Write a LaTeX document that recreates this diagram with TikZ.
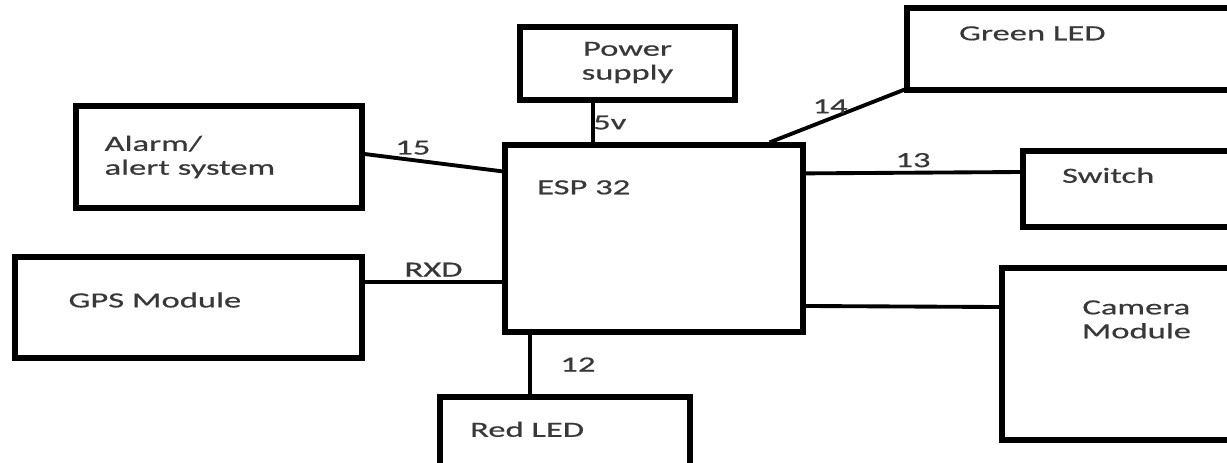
\documentclass[tikz,border=0pt]{standalone}
\usepackage{fontspec}
\setmainfont[FakeStretch=1.6, FakeBold=0.6]{Carlito}
\usepackage{tikz}
\usetikzlibrary{positioning,calc}

\begin{document}
\begin{tikzpicture}[
    x=0.02cm, y=-0.02cm,
    blk/.style={draw, line width=3pt, rectangle, inner sep=0pt},
    txt/.style={font=\fontsize{12.3}{13.6}\selectfont, text=black!78, align=left},
    wire/.style={line width=2.2pt},
    lbl/.style={font=\fontsize{12.3}{13.6}\selectfont, text=black!78, inner sep=2pt}
]
\path[use as bounding box] (0,0) rectangle (1227,463);
\clip (0,0) rectangle (1227,463);

% blocks
\node[blk, minimum width=5.72cm, minimum height=2.04cm] (alarm) at (219,157) {};
\node[blk, minimum width=6.94cm, minimum height=2.02cm] (gps) at (188.5,307.5) {};
\node[blk, minimum width=5.96cm, minimum height=3.74cm] (esp) at (654,238.5) {};
\node[blk, minimum width=4.3cm, minimum height=1.46cm] (power) at (627.5,63.5) {};
\node[blk, minimum width=7.66cm, minimum height=1.64cm] (green) at (1098.5,49) {};
\node[blk, minimum width=5.34cm, minimum height=1.52cm] (switch) at (1156.5,189) {};
\node[blk, minimum width=5.76cm, minimum height=3.44cm] (camera) at (1146,354) {};
\node[blk, minimum width=5.0cm, minimum height=2.06cm] (red) at (565,448.5) {};

% texts
\node[txt, anchor=west] (alarmtxt) at ([xshift=0.5cm]alarm.west) {Alarm/\\alert system};
\node[txt, anchor=west] (gpstxt) at ([xshift=1.0cm, yshift=0.15cm]gps.west) {GPS Module};
\node[txt, anchor=west] (esptxt) at ([xshift=0.57cm, yshift=-0.9cm]esp.north west) {ESP 32};
\node[txt, align=center] (powertxt) at ([yshift=0.02cm]power.center) {Power\\supply};
\node[txt, anchor=west] (greentxt) at ([xshift=0.97cm, yshift=-0.56cm]green.north west) {Green LED};
\node[txt, anchor=west] (switchtxt) at ([xshift=0.71cm, yshift=-0.54cm]switch.north west) {Switch};
\node[txt, align=center] (cameratxt) at ([xshift=2.74cm, yshift=-1.08cm]camera.north west) {Camera\\Module};
\node[txt, anchor=west] (redtxt) at ([xshift=0.53cm, yshift=-0.7cm]red.north west) {Red LED};

% connections
\coordinate (rxd) at ([yshift=0.51cm]gps.east);
\coordinate (pwr) at ([xshift=-0.69cm]power.south);
\coordinate (r12) at ([xshift=0.56cm]esp.south west);

\draw[wire] ([yshift=0.06cm]alarm.east) -- node[lbl, pos=0.35, above] {15} ([yshift=-0.58cm]esp.north west);
\draw[wire] (rxd) -- node[lbl, midway, above] {RXD} (rxd -| esp.west);
\draw[wire] (pwr) -- node[lbl, midway, right, xshift=-3pt] {5v} (pwr |- esp.north);
\draw[wire] ([xshift=-0.72cm]esp.north east) -- node[lbl, pos=0.45, above left, xshift=13pt] {14} ([yshift=0.06cm]green.south west);
\draw[wire] ([yshift=-0.62cm]esp.north east) -- node[lbl, midway, above] {13} ([yshift=0.34cm]switch.west);
\draw[wire] ([yshift=-1.35cm]esp.east) -- ([yshift=0.94cm]camera.west);
\draw[wire] (r12) -- node[lbl, midway, right=14pt] {12} (r12 |- red.north);
\end{tikzpicture}
\end{document}
